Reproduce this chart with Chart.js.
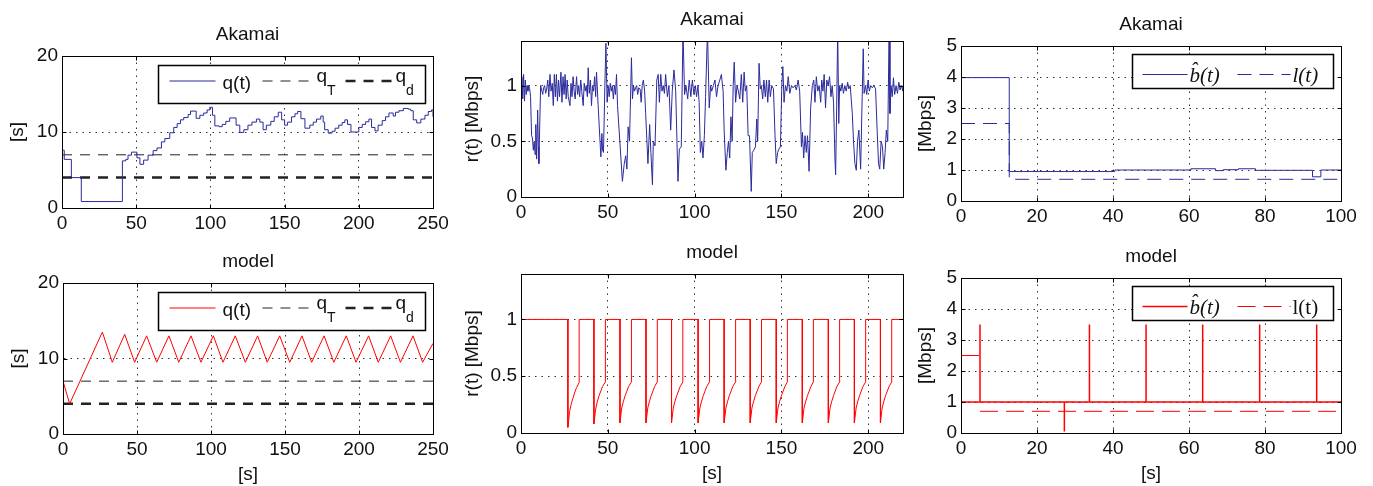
<!DOCTYPE html>
<html>
<head>
<meta charset="utf-8">
<title>Akamai vs model</title>
<script src="https://cdn.jsdelivr.net/npm/chart.js@4.4.1/dist/chart.umd.min.js"></script>
<style>
    body { margin: 0; width: 1373px; height: 486px; overflow: hidden; background: #fff; }
    canvas { position: absolute; }
</style>
</head>
<body>
<canvas id="qAk"></canvas>
<canvas id="rAk"></canvas>
<canvas id="bAk"></canvas>
<canvas id="qMo"></canvas>
<canvas id="rMo"></canvas>
<canvas id="bMo"></canvas>
<script>
// ---- data ----
const qTicksX = [0, 50, 100, 150, 200, 250];
const qTicksY = [0, 10, 20];
const rTicksX = [0, 50, 100, 150, 200];
const rTicksY = [0, 0.5, 1];
const bTicksX = [0, 20, 40, 60, 80, 100];
const bTicksY = [0, 1, 2, 3, 4, 5];

const qTarget = [[0, 7], [250, 7]];
const qMin = [[0, 4], [250, 4]];

// Akamai buffer level (steps)
const qAkamai = [[0,7.6],[1.5,6.4],[6.3,4.0],[13,0.85],[40.7,6.2],[43,6.4],[44.5,6.95],[46.8,7.35],[50.5,6.6],[52.5,5.75],
    [55,6.3],[58,6.95],[61.4,7.55],[64,7.9],[67,8.7],[69.3,9.15],[72.6,9.9],[75.3,10.6],[77.6,11.1],[79.8,11.6],[82,11.9],
    [85,12.3],[86.6,12.75],[90.4,11.8],[92.9,12.2],[95.5,12.5],[97.8,12.9],[99.6,13.25],[101.4,12.2],[103,10.8],[105.9,10.7],
    [108,11.0],[110.4,11.4],[113,11.85],[117.3,10.9],[119.8,9.95],[122.5,10.3],[125.3,10.9],[128,11.3],[131,11.7],[133.3,11.3],
    [135.5,10.3],[137.7,10.9],[140.7,11.4],[143,12.0],[145.7,12.6],[148,11.6],[150,10.9],[152,11.3],[154.7,12.0],[157,12.4],
    [158.8,12.7],[161,11.75],[163.7,10.5],[167,10.9],[169.3,11.3],[171.5,11.7],[174.4,12.1],[176,11.3],[177,10.3],[179.4,9.85],
    [182,10.1],[184,10.5],[186.5,10.9],[188.8,11.25],[190.6,11.6],[192.4,11.0],[194.7,10.0],[200,10.6],[202.3,11.0],[204.6,11.35],
    [206.8,11.7],[208.6,10.6],[210.9,10.15],[213,10.9],[215.8,11.5],[218,12.0],[220.3,12.5],[223.2,12.1],[224.7,12.6],[227,12.8],
    [230,13.1],[233.3,13.0],[235,12.8],[236.7,11.6],[239,11.2],[241.8,11.7],[244.6,12.2],[246.8,12.7],[249,12.9],[250,12.0]];

// Akamai download rate
const rAkamai = [[0,0.93],[0.5,1.08],[1,0.88],[1.5,1.1],[2,0.86],[2.5,1.05],[3,0.92],[3.5,1.0],[4,0.95],[4.5,1.0],[5,0.97],[5.5,0.9],
    [6.1,0.55],[6.6,0.53],[7.1,0.42],[7.6,0.5],[8.1,0.38],[8.5,0.65],[9,0.34],[9.6,0.78],[10,0.45],[10.3,0.3],
    [11.3,1.0],[11.9,0.96],[12.5,0.92],[13,0.98],[13.6,1.0],[14.2,0.93],[14.8,0.97],[15.4,1.05],[16,0.9],[16.7,1.1],[17.3,0.95],
    [18,1.02],[18.6,0.82],[19.2,1.1],[19.8,0.9],[20.4,1.1],[21,0.86],[21.6,1.05],[22.2,0.9],[23,1.12],[23.6,0.85],[24.2,1.08],
    [24.8,0.92],[25.4,1.1],[26,0.88],[26.6,1.05],[27.2,0.9],[28.2,0.82],[28.8,1.02],[29.4,0.9],[30,1.08],[30.6,0.95],[31.2,0.88],
    [32,1.08],[32.6,0.92],[33.2,1.0],[33.8,0.9],[34.4,1.05],[35,0.95],[35.8,0.82],[36.4,1.02],[37,0.95],[37.6,1.0],[38.2,0.9],
    [38.7,1.16],[39.3,0.93],[40,1.05],[40.6,0.82],[41.2,1.0],[41.8,0.95],[42.4,1.08],[43,0.9],[43.5,1.12],[44.4,0.83],
    [45.4,0.53],[46,0.36],[46.6,0.57],[47,0.42],[47.5,0.4],[48.3,1.0],[48.9,1.38],[49.6,0.85],[50.2,1.0],[50.8,0.9],[51.4,1.02],
    [52,0.95],[52.6,1.0],[53.2,0.88],[53.8,1.0],[54.4,0.92],[55,1.1],[55.6,0.82],
    [56.5,0.6],[58.4,0.14],[59.4,0.29],[60.3,0.37],[61,0.25],[61.7,0.63],[62.5,0.5],[63.6,1.25],[64.2,0.88],[64.8,1.0],[65.4,0.95],
    [66,0.98],[66.6,1.0],[67.2,0.92],[67.8,0.98],[68.6,0.97],[69.2,0.85],[69.8,1.0],[70.5,1.05],[71.2,0.95],[71.8,0.75],
    [73.1,0.3],[74.1,0.65],[74.8,0.4],[75.7,0.11],[76.2,0.5],[77.2,0.46],[78.2,1.05],[79,1.1],[79.7,0.85],[80.5,1.1],[81.2,0.95],
    [81.9,1.0],[82.6,0.93],[83.3,1.1],[84.3,0.9],[85.2,1.0],[86.2,0.6],[87.1,0.95],[88.1,1.14],[89.1,0.95],
    [90.4,0.14],[91.2,0.43],[92.3,0.45],[93.3,1.5],[94.2,0.92],[95,1.0],[96,0.88],[96.9,1.05],[97.8,0.9],[98.7,1.05],[99.6,0.92],
    [100.4,1.0],[101.1,0.9],[101.9,1.0],[102.6,0.85],
    [103.3,0.4],[104.1,0.5],[104.8,0.35],[105.6,0.55],[106.3,0.9],[107.4,1.5],[108.4,0.8],[109.2,1.0],[109.8,0.95],[110.8,1.0],
    [111.7,1.05],[112.6,0.9],[113.5,1.0],[114.5,1.05],[115.4,1.1],[116.4,0.95],
    [117,0.6],[118,0.24],[118.8,0.4],[119.5,0.5],[120.2,0.35],[120.9,0.72],[121.6,0.5],[122.2,1.0],[122.8,1.21],[123.6,0.85],
    [124.4,1.0],[125.2,0.95],[126,0.88],[126.9,1.1],[127.7,0.85],[128.5,1.12],[129.2,0.95],[130,1.0],
    [130.8,0.55],[131.6,0.55],[132.6,0.05],[133.2,0.4],[134.1,0.42],[135,0.45],[135.8,0.7],[136.3,0.5],[137.1,1.2],[137.8,0.97],
    [138.4,1.0],[139.2,0.88],[139.9,1.05],[140.7,0.9],[141.4,1.05],[142.1,0.85],[142.9,1.05],[143.6,0.9],[144.4,1.0],[145.4,0.97],
    [146.3,0.55],[147,0.3],[147.8,0.4],[148.5,0.43],[149.4,0.45],[150.2,1.0],[150.8,1.17],[151.5,0.85],[152.3,1.0],[153.1,0.95],
    [153.9,1.08],[154.8,0.93],[155.8,1.0],[156.7,0.98],[157.7,1.0],[158.6,0.96],[159.6,1.05],[160.5,0.95],
    [161.5,0.45],[162.1,0.58],[162.8,0.35],[163.6,0.55],[164.3,0.4],[165,0.55],[165.9,0.23],[166.8,0.8],[167.8,1.0],[168.6,1.05],
    [169.3,0.85],[170.1,1.08],[170.9,0.95],[171.7,1.0],[172.6,0.85],[173.2,1.05],[173.9,0.95],[174.6,1.1],[175.4,0.8],[176.1,1.05],
    [176.9,1.0],[177.7,1.08],[178.5,0.9],[179.2,1.0],[180,0.85],
    [180.8,0.35],[181.2,0.2],[181.8,0.8],[182.4,1.5],[183,0.66],[183.5,1.0],[184.2,0.95],[185,1.02],[185.7,0.93],[186.5,1.0],
    [187.3,0.95],[188.1,1.03],[188.8,0.97],[189.6,1.0],
    [190.8,0.75],[191.5,0.5],[192.3,0.3],[193.1,0.24],[193.8,0.5],[194.6,0.6],[195.6,0.25],[196.5,0.9],[197.1,1.33],[197.6,0.93],
    [198.4,1.0],[199.1,0.92],[199.9,1.05],[200.6,0.95],[201.4,1.0],[202.3,0.98],[203.3,1.0],[204.2,0.97],
    [205.1,0.6],[205.9,0.3],[206.6,0.25],[207.4,0.5],[208.2,0.45],[208.9,0.25],[209.7,0.4],[210.4,0.6],[211.2,0.5],[212,1.5],
    [212.5,0.75],[213.1,1.0],[213.8,0.9],[214.5,1.07],[215.2,0.92],[216,1.0],[216.8,0.93],[217.6,1.03],[218.3,0.96],[219.1,1.0],
    [219.9,0.95],[220,1.0]];

// Akamai bandwidth estimate and level (steps)
const bAkamai = [[0,3.98],[12.7,0.95],[40.5,1.0],[60.5,1.04],[67,0.98],[69,1.01],[73,1.04],[77.5,0.99],[92.5,0.78],[94.7,1.0],[100,1.0]];
const lAkamai = [[0,2.5],[12.7,0.7],[100,0.7]];

// model buffer level
const qModel = [[0,7],[4.5,4],[26.6,13.5],[33.3,9.5],[41.7,13.2],[48.4,9.5],[56.5,13],[63.3,9.5],[71.6,13],[78.2,9.5],
    [86.5,13],[93.2,9.5],[101.6,13],[108.1,9.5],[116.4,13],[123.2,9.5],[131.5,13],[138,9.5],[146.4,13],[153.2,9.5],
    [161.5,13],[168,9.5],[176.4,13],[183,9.5],[191.4,13],[198,9.5],[206.5,13],[213,9.5],[221.4,13],[228,9.5],
    [236.5,13],[243,9.5],[250,12]];

// model download rate
const rModel = [[0,1],[27,1],[27,0.05],[28,0.19],[29,0.26],[30,0.31],[31,0.36],[32,0.4],[33.5,0.445],[33.5,1],
    [42,1],[42,0.08],[43,0.21],[44,0.28],[45,0.33],[46,0.37],[47,0.41],[48.6,0.45],[48.6,1],
    [57,1],[57,0.09],[58,0.22],[59,0.28],[60,0.33],[61,0.37],[62,0.41],[63.6,0.45],[63.6,1],
    [72,1],[72,0.09],[73,0.22],[74,0.28],[75,0.33],[76,0.37],[77,0.41],[78.5,0.45],[78.5,1],
    [86.7,1],[86.7,0.09],[87.7,0.22],[88.7,0.28],[89.7,0.33],[90.7,0.37],[91.7,0.41],[93.2,0.45],[93.2,1],
    [102,1],[102,0.09],[103,0.22],[104,0.28],[105,0.33],[106,0.37],[107,0.41],[108.6,0.45],[108.6,1],
    [117,1],[117,0.09],[118,0.22],[119,0.28],[120,0.33],[121,0.37],[122,0.41],[123.6,0.45],[123.6,1],
    [132,1],[132,0.09],[133,0.22],[134,0.28],[135,0.33],[136,0.37],[137,0.41],[138.5,0.45],[138.5,1],
    [147,1],[147,0.09],[148,0.22],[149,0.28],[150,0.33],[151,0.37],[152,0.41],[153.4,0.45],[153.4,1],
    [162,1],[162,0.09],[163,0.22],[164,0.28],[165,0.33],[166,0.37],[167,0.41],[168.4,0.45],[168.4,1],
    [177,1],[177,0.09],[178,0.22],[179,0.28],[180,0.33],[181,0.37],[182,0.41],[183.5,0.45],[183.5,1],
    [192,1],[192,0.09],[193,0.22],[194,0.28],[195,0.33],[196,0.37],[197,0.41],[198.5,0.45],[198.5,1],
    [207,1],[207,0.09],[208,0.22],[209,0.28],[210,0.33],[211,0.37],[212,0.41],[213.5,0.45],[213.5,1],
    [220,1]];

// model bandwidth estimate and level
const bModel = [[0,4],[0,1],[5,1],[5,3.5],[5,1],[27.2,1],[27.2,0.05],[27.2,1],[33.8,1],[33.8,3.5],[33.8,1],
    [48.7,1],[48.7,3.5],[48.7,1],[63.6,1],[63.6,3.5],[63.6,1],[78.6,1],[78.6,3.5],[78.6,1],[93.6,1],[93.6,3.5],[93.6,1],[100,1]];
const lModel = [[0,2.5],[5,2.5],[5,null],[5,0.7],[100,0.7]];

// ---- drawing ----
const FONT = '"Liberation Sans", Arial, Helvetica, sans-serif';
const SERIF = '"Liberation Serif", "Times New Roman", serif';
const BLUE = '#2a2a9c';
const RED = '#ff0000';
const FS = 19;

function pts(a) { return a.map(p => ({x: p[0], y: p[1]})); }

function line(data, color, opts) {
    return Object.assign({data: pts(data), borderColor: color, borderWidth: 1, pointRadius: 0, tension: 0, fill: false}, opts || {});
}

// frame box, inward ticks and the boxed legend (matlab style)
const framePlugin = {
    id: 'frame',
    afterDatasetsDraw(chart, args, opts) {
        const {ctx, chartArea: a, scales} = chart;
        ctx.save();
        ctx.setLineDash([]);
        ctx.strokeStyle = '#000';
        ctx.lineWidth = 1;
        const l = Math.round(a.left) + 0.5, t = Math.round(a.top) + 0.5;
        const r = Math.round(a.right) + 0.5, b = Math.round(a.bottom) + 0.5;
        ctx.strokeRect(l, t, r - l, b - t);
        ctx.beginPath();
        scales.x.ticks.forEach(tk => {
            const x = Math.round(scales.x.getPixelForValue(tk.value)) + 0.5;
            ctx.moveTo(x, b); ctx.lineTo(x, b - 4);
            ctx.moveTo(x, t); ctx.lineTo(x, t + 4);
        });
        scales.y.ticks.forEach(tk => {
            const y = Math.round(scales.y.getPixelForValue(tk.value)) + 0.5;
            ctx.moveTo(l, y); ctx.lineTo(l + 4, y);
            ctx.moveTo(r, y); ctx.lineTo(r - 4, y);
        });
        ctx.stroke();

        const lg = opts.legend;
        if (lg) {
            const bx = Math.round(a.right - lg.right - lg.w) + 0.5;
            const by = Math.round(a.top + lg.top) + 0.5;
            ctx.fillStyle = '#fff';
            ctx.fillRect(bx, by, lg.w, lg.h);
            ctx.lineWidth = 1.5;
            ctx.strokeRect(bx, by, lg.w, lg.h);
            lg.items.forEach(it => {
                const ds = chart.data.datasets[it.ds];
                ctx.strokeStyle = ds.borderColor;
                ctx.lineWidth = ds.borderWidth;
                ctx.setLineDash(ds.borderDash || []);
                ctx.beginPath();
                ctx.moveTo(bx + it.x0, by + lg.lineY);
                ctx.lineTo(bx + it.x1, by + lg.lineY);
                ctx.stroke();
                ctx.setLineDash([]);
                ctx.fillStyle = '#111';
                ctx.textAlign = 'left';
                ctx.textBaseline = 'alphabetic';
                ctx.font = it.font;
                ctx.fillText(it.text, bx + it.tx, by + (it.base || lg.base));
                if (it.sub) {
                    const w = ctx.measureText(it.text).width;
                    ctx.font = it.subFont;
                    ctx.fillText(it.sub, bx + it.tx + w, by + it.subBase);
                }
            });
        }
        ctx.restore();
    }
};

function axis(p, which) {
    const isX = which === 'x';
    const ticks = isX ? p.xTicks : p.yTicks;
    const cfg = {
        type: 'linear',
        min: 0,
        max: isX ? p.xMax : p.yMax,
        afterBuildTicks: s => { s.ticks = ticks.map(v => ({value: v})); },
        afterFit: s => { if (isX) s.height = 52; else s.width = 60; },
        grid: {color: '#333', lineWidth: 1, drawTicks: false},
        border: {display: true, color: '#000', width: 1, dash: [1.5, 5]},
        ticks: {
            color: '#111',
            padding: isX ? 4 : 4,
            maxRotation: 0,
            autoSkip: false,
            font: {family: FONT, size: FS},
            callback: v => String(v)
        }
    };
    const txt = isX ? p.xTitle : p.yTitle;
    if (txt) {
        cfg.title = {
            display: true, text: txt, color: '#111',
            font: {family: FONT, size: FS},
            padding: isX ? {top: 0, bottom: 0} : {top: p.yTitlePad, bottom: 0}
        };
    }
    return cfg;
}

function makeChart(p) {
    const cv = document.getElementById(p.id);
    cv.width = 60 + p.W + 25;
    cv.height = 40 + p.H + 52;
    cv.style.left = (p.L - 60) + 'px';
    cv.style.top = (p.T - 40) + 'px';
    return new Chart(cv, {
        type: 'line',
        data: {datasets: p.datasets},
        options: {
            responsive: false,
            animation: false,
            devicePixelRatio: 1,
            layout: {padding: {left: 0, right: 25, top: 0, bottom: 0}},
            plugins: {
                legend: {display: false},
                tooltip: {enabled: false},
                title: {
                    display: true, text: p.title, fullSize: false, color: '#111',
                    font: {family: FONT, size: FS, weight: 'normal'},
                    padding: {top: 7, bottom: 10.2}
                },
                frame: {legend: p.legend}
            },
            scales: {x: axis(p, 'x'), y: axis(p, 'y')}
        },
        plugins: [framePlugin]
    });
}

const qLegend = () => ({
    w: 267, h: 38, right: 8, top: 9, lineY: 15.5, base: 23,
    items: [
        {ds: 0, x0: 11, x1: 57, tx: 64, text: 'q(t)', font: '19px ' + FONT},
        {ds: 1, x0: 104, x1: 156, tx: 158, text: 'q', base: 16, sub: 'T', subBase: 29, font: '19px ' + FONT, subFont: '14px ' + FONT},
        {ds: 2, x0: 187, x1: 235, tx: 237, text: 'q', base: 16, sub: 'd', subBase: 29, font: '19px ' + FONT, subFont: '14px ' + FONT}
    ]
});

const bLegend = lItalic => ({
    w: 201, h: 34, right: 8, top: 8, lineY: 20, base: 27,
    items: [
        {ds: 0, x0: 10, x1: 55, tx: 57, text: 'b\u0302(t)', font: 'italic 21px ' + SERIF},
        {ds: 1, x0: 105, x1: 158, tx: 160, text: 'l(t)', font: (lItalic ? 'italic ' : '') + '21px ' + SERIF}
    ]
});

const qDash = (w) => ({borderColor: '#222', borderWidth: w, borderDash: [10, 8]});

makeChart({
    id: 'qAk', L: 62, T: 56, W: 371, H: 152, title: 'Akamai',
    xMax: 250, yMax: 20, xTicks: qTicksX, yTicks: qTicksY, yTitle: '[s]', yTitlePad: 4.6,
    datasets: [
        line(qAkamai, BLUE, {stepped: true}),
        line(qTarget, '#222', qDash(1)),
        line(qMin, '#222', qDash(2.5))
    ],
    legend: qLegend()
});

makeChart({
    id: 'rAk', L: 521, T: 41, W: 382, H: 156, title: 'Akamai',
    xMax: 220, yMax: 1.4, xTicks: rTicksX, yTicks: rTicksY, yTitle: 'r(t) [Mbps]', yTitlePad: 0,
    datasets: [line(rAkamai, BLUE)]
});

makeChart({
    id: 'bAk', L: 961, T: 46, W: 380, H: 155, title: 'Akamai',
    xMax: 100, yMax: 5, xTicks: bTicksX, yTicks: bTicksY, yTitle: '[Mbps]', yTitlePad: 13.6,
    datasets: [
        line(bAkamai, BLUE, {stepped: true}),
        line(lAkamai, BLUE, {stepped: true, borderDash: [14, 8]})
    ],
    legend: bLegend(true)
});

makeChart({
    id: 'qMo', L: 63, T: 283, W: 370, H: 151, title: 'model',
    xMax: 250, yMax: 20, xTicks: qTicksX, yTicks: qTicksY, yTitle: '[s]', xTitle: '[s]', yTitlePad: 4.6,
    datasets: [
        line(qModel, RED),
        line(qTarget, '#222', qDash(1)),
        line(qMin, '#222', qDash(2.5))
    ],
    legend: qLegend()
});

makeChart({
    id: 'rMo', L: 521, T: 274, W: 382, H: 159, title: 'model',
    xMax: 220, yMax: 1.4, xTicks: rTicksX, yTicks: rTicksY, yTitle: 'r(t) [Mbps]', xTitle: '[s]', yTitlePad: 0,
    datasets: [line(rModel, RED)]
});

makeChart({
    id: 'bMo', L: 961, T: 278, W: 380, H: 155, title: 'model',
    xMax: 100, yMax: 5, xTicks: bTicksX, yTicks: bTicksY, yTitle: '[Mbps]', xTitle: '[s]', yTitlePad: 13.6,
    datasets: [
        line(bModel, RED, {borderWidth: 1.5}),
        line(lModel, RED, {borderDash: [18, 8], spanGaps: false})
    ],
    legend: bLegend(false)
});
</script>
</body>
</html>
